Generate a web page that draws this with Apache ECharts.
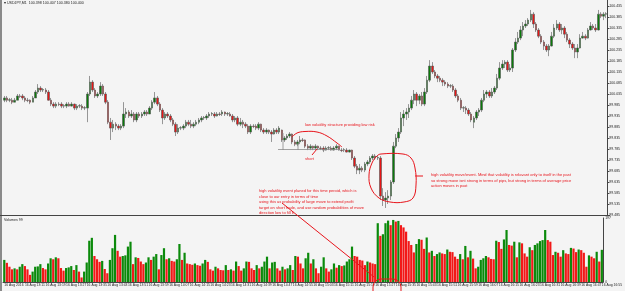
<!DOCTYPE html>
<html>
<head>
<meta charset="utf-8">
<title>USDJPY,M1</title>
<script src="https://cdn.jsdelivr.net/npm/echarts@6/dist/echarts.min.js"></script>
<style>
html, body { margin: 0; padding: 0; background: #f4f4f4; }
#main { width: 625px; height: 291px; }
</style>
</head>
<body>
<div id="main"></div>
<script type="text/javascript">
// USDJPY M1, 16 Aug 2016, one candle per minute from 13:03
var tickLabels = ['16 Aug 2016', '16 Aug 13:11', '16 Aug 13:19', '16 Aug 13:27', '16 Aug 13:35', '16 Aug 13:43',
    '16 Aug 13:51', '16 Aug 13:59', '16 Aug 14:07', '16 Aug 14:15', '16 Aug 14:23', '16 Aug 14:31',
    '16 Aug 14:39', '16 Aug 14:47', '16 Aug 14:55', '16 Aug 15:03', '16 Aug 15:11', '16 Aug 15:19',
    '16 Aug 15:27', '16 Aug 15:35', '16 Aug 15:43', '16 Aug 15:51', '16 Aug 15:59', '16 Aug 16:07',
    '16 Aug 16:15', '16 Aug 16:23', '16 Aug 16:31', '16 Aug 16:39', '16 Aug 16:47', '16 Aug 16:55'];

// [open, close, low, high]
var candles = [
    [100.007,100.017,99.998,100.026],[100.017,100.007,99.998,100.026],[100.007,100.009,99.998,100.017],[100.007,99.998,99.989,100.017],[99.998,100.007,99.998,100.017],
    [100.007,100.026,100.007,100.035],[100.026,100.024,100.017,100.035],[100.026,100.017,100.007,100.035],[100.017,100.007,99.998,100.026],[100.007,100.005,99.998,100.017],
    [100.007,99.998,99.989,100.010],[99.998,100.017,99.998,100.026],[100.017,100.044,100.017,100.053],[100.044,100.062,100.035,100.080],[100.062,100.053,100.044,100.071],
    [100.053,100.055,100.044,100.062],[100.053,100.044,100.035,100.062],[100.044,100.007,100.005,100.053],[100.007,99.989,99.980,100.017],[99.989,99.980,99.971,99.998],
    [99.980,99.989,99.971,99.998],[99.989,99.987,99.980,99.998],[99.989,99.980,99.971,99.998],[99.980,99.982,99.971,99.989],[99.980,99.989,99.971,99.998],
    [99.989,99.980,99.978,99.998],[99.980,99.989,99.978,99.998],[99.989,99.971,99.962,99.991],[99.971,99.980,99.962,99.989],[99.980,99.982,99.971,99.989],
    [99.980,99.971,99.962,99.989],[99.971,99.973,99.962,99.980],[99.971,100.035,99.907,100.044],[100.035,100.089,100.026,100.117],[100.089,100.053,100.044,100.098],
    [100.053,100.026,100.017,100.062],[100.026,100.035,100.017,100.044],[100.035,100.071,100.026,100.089],[100.071,100.035,100.026,100.080],[100.035,99.998,99.989,100.044],
    [99.998,99.907,99.898,100.007],[99.907,99.880,99.826,99.926],[99.880,99.898,99.862,99.917],[99.898,99.889,99.871,99.907],[99.889,99.880,99.871,99.898],
    [99.880,99.889,99.871,99.898],[99.889,99.944,99.880,99.998],[99.944,99.953,99.926,99.971],[99.953,99.935,99.926,99.962],[99.935,99.944,99.926,99.962],
    [99.944,99.917,99.907,99.953],[99.917,99.944,99.907,99.953],[99.944,99.935,99.926,99.953],[99.935,99.944,99.926,99.953],[99.944,99.953,99.935,99.962],
    [99.953,99.944,99.935,99.962],[99.944,99.971,99.944,99.980],[99.971,99.998,99.962,100.007],[99.998,100.017,99.989,100.044],[100.017,99.989,99.980,100.026],
    [99.989,99.962,99.953,99.998],[99.962,99.926,99.898,99.971],[99.926,99.944,99.917,99.953],[99.944,99.935,99.926,99.953],[99.935,99.917,99.907,99.944],
    [99.917,99.898,99.889,99.926],[99.898,99.862,99.844,99.907],[99.862,99.880,99.853,99.898],[99.880,99.882,99.871,99.889],[99.880,99.889,99.871,99.898],
    [99.889,99.907,99.880,99.917],[99.907,99.898,99.889,99.917],[99.898,99.889,99.880,99.917],[99.889,99.898,99.880,99.907],[99.898,99.907,99.889,99.917],
    [99.907,99.917,99.898,99.926],[99.917,99.926,99.907,99.935],[99.926,99.928,99.917,99.935],[99.926,99.935,99.917,99.944],[99.935,99.944,99.926,99.953],
    [99.944,99.946,99.935,99.953],[99.944,99.935,99.926,99.953],[99.935,99.944,99.933,99.953],[99.944,99.942,99.935,99.953],[99.944,99.953,99.935,99.962],
    [99.953,99.944,99.935,99.955],[99.944,99.946,99.935,99.953],[99.944,99.935,99.933,99.953],[99.935,99.917,99.907,99.944],[99.917,99.926,99.907,99.935],
    [99.926,99.898,99.889,99.935],[99.898,99.907,99.889,99.926],[99.907,99.898,99.880,99.917],[99.898,99.889,99.880,99.907],[99.889,99.862,99.853,99.898],
    [99.862,99.889,99.853,99.898],[99.889,99.887,99.880,99.898],[99.889,99.880,99.871,99.898],[99.880,99.898,99.871,99.907],[99.898,99.871,99.862,99.900],
    [99.871,99.862,99.853,99.880],[99.862,99.871,99.853,99.880],[99.871,99.862,99.853,99.873],[99.862,99.853,99.817,99.871],[99.853,99.871,99.851,99.880],
    [99.871,99.862,99.853,99.880],[99.862,99.880,99.853,99.889],[99.871,99.826,99.817,99.873],[99.826,99.835,99.817,99.844],[99.835,99.844,99.826,99.853],
    [99.844,99.853,99.835,99.862],[99.853,99.817,99.807,99.855],[99.817,99.807,99.798,99.826],[99.807,99.817,99.798,99.826],[99.817,99.826,99.807,99.844],
    [99.826,99.824,99.817,99.835],[99.826,99.798,99.789,99.828],[99.798,99.789,99.780,99.807],[99.789,99.798,99.780,99.807],[99.798,99.789,99.780,99.800],
    [99.789,99.798,99.780,99.807],[99.798,99.789,99.780,99.800],[99.789,99.787,99.780,99.798],[99.789,99.780,99.771,99.798],[99.780,99.789,99.778,99.798],
    [99.789,99.791,99.780,99.798],[99.789,99.780,99.778,99.798],[99.780,99.789,99.778,99.798],[99.789,99.798,99.780,99.807],[99.798,99.780,99.778,99.800],
    [99.780,99.778,99.771,99.789],[99.780,99.782,99.771,99.789],[99.780,99.771,99.769,99.789],[99.771,99.780,99.769,99.782],[99.780,99.744,99.735,99.782],
    [99.744,99.707,99.698,99.753],[99.707,99.689,99.671,99.717],[99.689,99.698,99.671,99.717],[99.698,99.689,99.680,99.707],[99.689,99.717,99.680,99.726],
    [99.717,99.726,99.707,99.735],[99.726,99.744,99.717,99.753],[99.744,99.753,99.735,99.762],[99.753,99.744,99.735,99.762],[99.744,99.746,99.735,99.753],
    [99.744,99.571,99.553,99.753],[99.571,99.553,99.526,99.607],[99.553,99.562,99.517,99.589],[99.562,99.571,99.535,99.598],[99.571,99.635,99.553,99.644],
    [99.635,99.798,99.626,99.817],[99.798,99.835,99.789,99.853],[99.835,99.862,99.817,99.880],[99.862,99.926,99.853,99.953],[99.926,99.944,99.889,99.962],
    [99.944,99.953,99.917,99.971],[99.953,99.971,99.926,99.989],[99.971,100.007,99.962,100.026],[100.007,100.035,99.989,100.053],[100.035,100.007,99.980,100.044],
    [100.007,100.026,99.989,100.035],[100.026,99.989,99.980,100.044],[99.989,100.044,99.980,100.062],[100.044,100.098,100.035,100.117],[100.098,100.162,100.089,100.189],
    [100.162,100.135,100.126,100.180],[100.135,100.117,100.107,100.144],[100.117,100.107,100.089,100.126],[100.107,100.098,100.089,100.117],[100.098,100.089,100.071,100.107],
    [100.089,100.080,100.071,100.098],[100.080,100.071,100.062,100.089],[100.071,100.073,100.062,100.080],[100.071,100.053,100.044,100.080],[100.053,100.026,100.017,100.062],
    [100.026,100.007,99.998,100.035],[100.007,99.971,99.962,100.017],[99.971,99.973,99.953,99.980],[99.971,99.962,99.944,99.980],[99.962,99.944,99.935,99.971],
    [99.944,99.917,99.907,99.953],[99.907,99.926,99.880,99.935],[99.926,99.953,99.917,99.962],[99.953,99.962,99.935,99.971],[99.962,100.007,99.953,100.017],
    [100.007,100.035,99.998,100.053],[100.035,100.044,100.017,100.053],[100.044,100.026,100.017,100.053],[100.026,100.044,100.017,100.062],[100.044,100.062,100.035,100.071],
    [100.062,100.107,100.053,100.126],[100.107,100.153,100.098,100.180],[100.153,100.171,100.144,100.189],[100.171,100.180,100.153,100.189],[100.180,100.144,100.135,100.189],
    [100.144,100.153,100.135,100.171],[100.153,100.235,100.135,100.244],[100.235,100.271,100.226,100.289],[100.271,100.289,100.262,100.317],[100.289,100.326,100.280,100.344],
    [100.326,100.344,100.298,100.362],[100.344,100.353,100.335,100.371],[100.353,100.371,100.344,100.380],[100.371,100.398,100.362,100.417],[100.398,100.353,100.335,100.407],
    [100.353,100.326,100.317,100.362],[100.326,100.298,100.289,100.335],[100.298,100.271,100.262,100.307],[100.271,100.253,100.235,100.280],[100.253,100.235,100.226,100.262],
    [100.235,100.253,100.207,100.262],[100.253,100.298,100.251,100.317],[100.298,100.335,100.289,100.353],[100.335,100.353,100.326,100.371],[100.353,100.326,100.317,100.362],
    [100.326,100.335,100.307,100.353],[100.335,100.307,100.289,100.344],[100.307,100.280,100.271,100.317],[100.280,100.262,100.244,100.289],[100.262,100.244,100.235,100.271],
    [100.244,100.226,100.198,100.262],[100.226,100.244,100.198,100.262],[100.244,100.289,100.242,100.307],[100.289,100.298,100.287,100.317],[100.298,100.289,100.280,100.307],
    [100.289,100.326,100.287,100.335],[100.326,100.344,100.324,100.362],[100.344,100.335,100.326,100.353],[100.335,100.326,100.317,100.353],[100.326,100.398,100.324,100.417],
    [100.398,100.389,100.380,100.407],[100.389,100.398,100.371,100.407],[100.398,100.400,100.380,100.407]
];

var volumes = [
    68,59,47,39,42,39,47,55,49,39, 22,32,47,48,55,43,39,57,73,70,
    76,73,43,35,43,45,49,37,52,32, 14,32,60,127,136,80,70,62,65,40,
    27,68,104,145,96,78,80,82,109,124, 55,76,74,63,55,60,76,68,78,86,
    39,83,104,70,73,65,63,70,117,68, 90,57,55,53,57,52,50,57,68,62,
    39,35,47,42,37,36,52,37,39,35, 63,49,35,42,63,62,42,37,52,42,
    47,63,78,42,60,62,42,35,47,39, 42,52,37,80,78,57,42,73,90,57,
    70,42,27,47,76,42,32,39,57,44, 52,49,51,63,70,109,80,78,68,66,
    52,63,60,57,55,181,142,147,181,189, 175,191,186,188,175,168,155,126,114,91,
    117,132,130,102,137,91,96,80,86,91, 88,86,100,93,92,78,71,86,70,111,
    76,96,72,42,47,68,73,80,76,71, 70,127,123,102,131,160,114,112,124,76,
    122,119,88,78,107,98,114,119,126,129, 160,129,124,83,93,90,78,98,88,86,
    105,103,92,100,98,90,47,82,78,73, 93,63,99
];

var times = [];
for (var i = 0; i < candles.length; i++) {
    var m = 13 * 60 + 3 + i;
    times.push((m / 60 | 0) + ':' + ('0' + (m % 60)).slice(-2));
}

// MT4 volumes: green when volume rose against the previous bar
var volData = volumes.map(function (v, i) {
    var up = i === 0 || v > volumes[i - 1];
    return { value: v, itemStyle: { color: up ? '#0b8a0b' : '#f21818' } };
});

var red = '#e8141b';
var fontFam = 'Liberation Sans';

function redText(x, y, s) {
    return { type: 'text', x: x, y: y, z: 100,
        style: { text: s, fill: red, fontSize: 4, fontFamily: fontFam, verticalAlign: 'middle' } };
}

var myChart = echarts.init(document.getElementById('main'));

var option = {
    backgroundColor: '#f4f4f4',
    animation: false,
    textStyle: { fontFamily: fontFam },
    grid: [
        { left: 3, right: 15, top: 0, height: 215 },
        { left: 3, right: 15, top: 218, height: 64 }
    ],
    xAxis: [
        {
            type: 'category', gridIndex: 0, data: times,
            axisLine: { show: false }, axisTick: { show: false },
            axisLabel: { show: false }, splitLine: { show: false }
        },
        {
            type: 'category', gridIndex: 1, data: times,
            axisLine: { lineStyle: { color: '#444', width: 1 } },
            axisTick: { interval: function (idx) { return idx % 8 === 0; }, length: 2, alignWithLabel: true, lineStyle: { color: '#444' } },
            axisLabel: {
                interval: function (idx) { return idx % 8 === 0; },
                formatter: function (val, idx) { return tickLabels[idx / 8] || ''; },
                fontSize: 3.4, color: '#222', align: 'left', margin: 2
            },
            splitLine: { show: false }
        }
    ],
    yAxis: [
        {
            type: 'value', gridIndex: 0, position: 'right',
            min: 99.485, max: 100.4623, interval: 0.05,
            axisLine: { show: true, lineStyle: { color: '#444' } },
            axisTick: { show: true, length: 2, lineStyle: { color: '#444' } },
            axisLabel: {
                fontSize: 3.5, color: '#222', margin: 2, showMaxLabel: false,
                formatter: function (v) { return v.toFixed(3); }
            },
            splitLine: { show: false }
        },
        {
            type: 'value', gridIndex: 1, position: 'right',
            min: 0, max: 197, interval: 197,
            axisLine: { show: true, lineStyle: { color: '#444' } },
            axisTick: { show: false },
            axisLabel: { fontSize: 3.5, color: '#222', margin: 2 },
            splitLine: { show: false }
        }
    ],
    series: [
        {
            type: 'candlestick', xAxisIndex: 0, yAxisIndex: 0,
            data: candles, barWidth: 2,
            itemStyle: {
                color: '#0a7a0a', color0: '#e81515',
                borderColor: '#555', borderColor0: '#555', borderWidth: 0.6
            }
        },
        {
            type: 'bar', xAxisIndex: 1, yAxisIndex: 1,
            data: volData, barWidth: 2.2
        }
    ],
    graphic: [
        { type: 'rect', z: 100, shape: { x: 0, y: 0, width: 2, height: 291 }, style: { fill: '#8a8a8a' } },
        { type: 'line', z: 100, shape: { x1: 0, y1: 215.5, x2: 610, y2: 215.5 }, style: { stroke: '#444', lineWidth: 1 } },
        { type: 'text', x: 4, y: 3, z: 100, style: { text: '\u25be USDJPY,M1  100.398 100.407 100.380 100.400', fill: '#222', fontSize: 3.6, fontFamily: fontFam, verticalAlign: 'middle' } },
        { type: 'text', x: 4, y: 220, z: 100, style: { text: 'Volumes 99', fill: '#222', fontSize: 3.6, fontFamily: fontFam, verticalAlign: 'middle' } },

        // support lines under the quiet structure
        { type: 'line', z: 100, shape: { x1: 278, y1: 149.5, x2: 340, y2: 149.5 }, style: { stroke: '#8c8c8c', lineWidth: 0.8 } },
        { type: 'line', z: 100, shape: { x1: 283, y1: 133, x2: 283, y2: 150 }, style: { stroke: '#8c8c8c', lineWidth: 0.8 } },
        { type: 'line', z: 100, shape: { x1: 298, y1: 143, x2: 298, y2: 150 }, style: { stroke: '#8c8c8c', lineWidth: 0.8 } },

        { type: 'polyline', z: 100, shape: { points: [[292, 137], [297, 133], [305, 131.5], [317, 132], [327, 136], [337, 143], [342, 147]], smooth: 0.4 },
          style: { stroke: red, lineWidth: 1, fill: null } },
        { type: 'line', z: 100, shape: { x1: 312, y1: 155, x2: 317, y2: 149 }, style: { stroke: red, lineWidth: 1 } },

        { type: 'polygon', z: 100, shape: { points: [[377, 156], [381, 154], [403, 154], [411, 158], [415, 168], [416, 185], [413, 198], [404, 202], [390, 202], [379, 198], [371, 188], [369, 175], [372, 163]], smooth: 0.4 },
          style: { stroke: red, lineWidth: 1, fill: 'none' } },
        { type: 'line', z: 100, shape: { x1: 415, y1: 176, x2: 423, y2: 176 }, style: { stroke: red, lineWidth: 1 } },

        { type: 'line', z: 100, shape: { x1: 282, y1: 203, x2: 374, y2: 277 }, style: { stroke: red, lineWidth: 1 } },
        { type: 'rect', z: 100, shape: { x: 373, y: 279, width: 28, height: 20, r: 8 }, style: { stroke: red, lineWidth: 1, fill: 'none' } },

        redText(305, 124.5, 'low volatility structure providing low risk'),
        redText(305, 159, 'short'),
        redText(259, 191, 'high volatility event planed for this time peroid, which is'),
        redText(259, 196.5, 'close to our entry in terms of time'),
        redText(259, 202, 'using this as probability of large move to extend profit'),
        redText(259, 207.5, 'target on short trade, and use random probabilities of move'),
        redText(259, 213, 'direction low to fill it'),
        redText(431, 175, 'high volatility move/event. Mind that volatility is relavant only to itself in the past'),
        redText(431, 180.5, 'so strong move isnt strong in terms of pips, but strong in terms of average price'),
        redText(431, 186, 'action moves in past')
    ]
};

myChart.setOption(option);
</script>
</body>
</html>
